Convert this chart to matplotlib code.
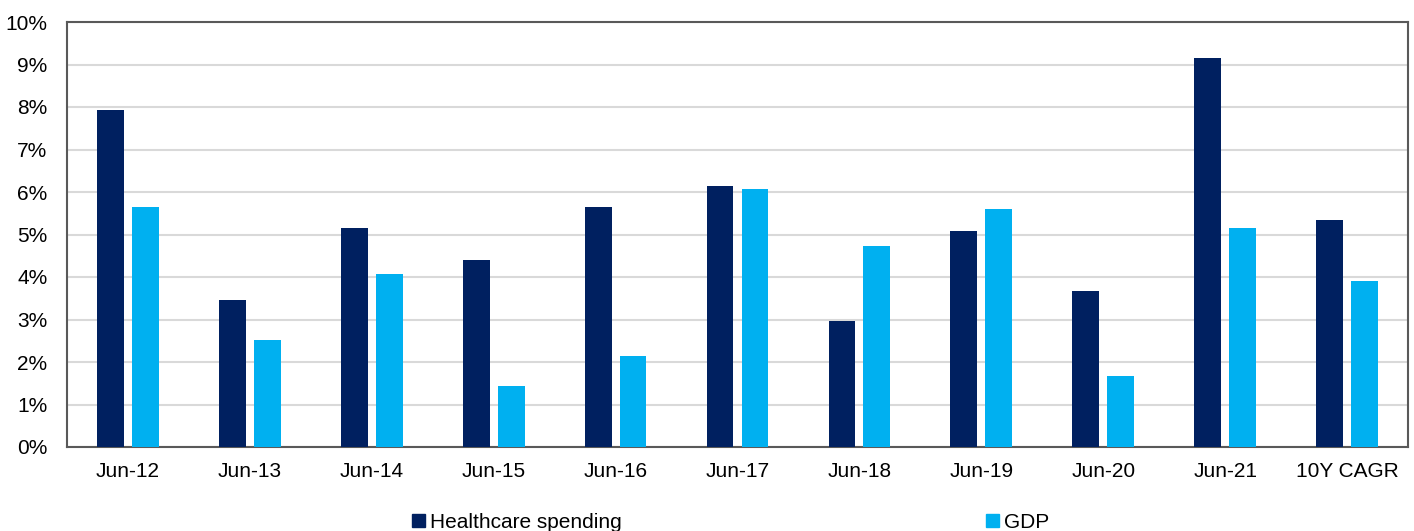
import numpy as np
import matplotlib.pyplot as plt
from matplotlib.ticker import PercentFormatter
from matplotlib.patches import Patch

plt.rcParams['font.family'] = ['Liberation Sans', 'DejaVu Sans']

categories = ["Jun-12", "Jun-13", "Jun-14", "Jun-15", "Jun-16", "Jun-17",
              "Jun-18", "Jun-19", "Jun-20", "Jun-21", "10Y CAGR"]
healthcare = [7.92, 3.46, 5.16, 4.40, 5.64, 6.14, 2.96, 5.08, 3.68, 9.16, 5.35]
gdp = [5.65, 2.51, 4.07, 1.44, 2.14, 6.07, 4.74, 5.60, 1.67, 5.16, 3.90]

dark = "#002060"
light = "#00B0F0"

fig = plt.figure(figsize=(14.14, 5.31), dpi=100)
ax = fig.add_axes([67 / 1414, 1 - 447 / 531, 1341 / 1414, 425 / 531])

x = np.arange(len(categories))
w = 0.22
ax.bar(x - 0.143, healthcare, w, color=dark, zorder=3)
ax.bar(x + 0.143, gdp, w, color=light, zorder=3)

ax.set_xlim(-0.5, len(categories) - 0.5)
ax.set_ylim(0, 10)
ax.set_yticks(np.arange(0, 11, 1))
ax.yaxis.set_major_formatter(PercentFormatter(decimals=0))
ax.set_xticks(x)
ax.set_xticklabels(categories)
ax.tick_params(axis='both', length=0, labelsize=15, colors='black')
ax.tick_params(axis='x', pad=11)
ax.tick_params(axis='y', pad=14)

ax.grid(axis='y', color='#d9d9d9', linewidth=1.5, zorder=0)
for side in ax.spines.values():
    side.set_color('#595959')
    side.set_linewidth(1.5)

handles = [Patch(color=dark, label="Healthcare spending"),
           Patch(color=light, label="GDP")]
fig.legend(handles=handles, loc='center left', bbox_to_anchor=(412 / 1414, 1 - 522 / 531),
           ncol=2, frameon=False, fontsize=15, handlelength=0.6, handleheight=0.6,
           handletextpad=0.25, columnspacing=17.5, borderaxespad=0, borderpad=0)

fig.savefig("out.png", dpi=100)
